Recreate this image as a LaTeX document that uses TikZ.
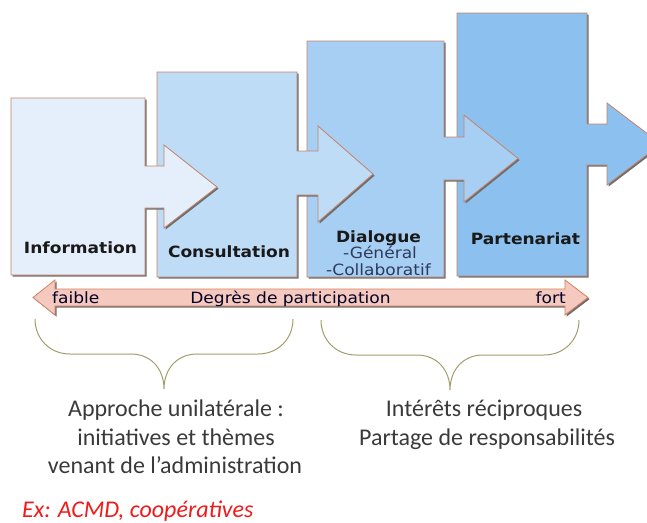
\documentclass[tikz,border=0pt]{standalone}
\usepackage{fontspec}
\setmainfont{Carlito}
\newfontfamily\stepfont[FakeStretch=1.1]{DejaVu Sans}
\definecolor{fillA}{HTML}{E4EFFB}
\definecolor{fillB}{HTML}{BEDCF6}
\definecolor{fillC}{HTML}{A7CFF3}
\definecolor{fillD}{HTML}{8CC0EF}
\definecolor{edge}{HTML}{C4846A}
\definecolor{shade}{HTML}{6E6E6E}
\definecolor{scalefill}{HTML}{F6C9BF}
\definecolor{scaleedge}{HTML}{D0805F}
\definecolor{bracec}{HTML}{A39D6C}
\definecolor{bodytext}{HTML}{3A3A3A}
\definecolor{subtext}{HTML}{2E3B5C}
\definecolor{exred}{HTML}{F01A1A}
\tikzset{
  stepshape/.style={draw=edge, line width=0.8pt, line join=miter,
    preaction={draw=none, fill=shade, transform canvas={shift={(1.6pt,-1.6pt)}}}},
  steplabel/.style={font=\stepfont\fontsize{15.5}{18}\selectfont\bfseries, text=black!90, inner sep=0pt, anchor=base},
  sublabel/.style={font=\stepfont\fontsize{15.5}{18}\selectfont, text=subtext, inner sep=0pt, anchor=base},
  scalelabel/.style={font=\stepfont\fontsize{15.5}{18}\selectfont, text=black!85!blue, inner sep=0pt},
  notetext/.style={font=\fontsize{24}{29}\selectfont, text=bodytext, inner sep=0pt, anchor=base},
  bracestyle/.style={draw=bracec, line width=1pt},
  pics/curlybrace/.style={code={
    \draw[bracestyle] (0,0) .. controls (0,20) and (15,35) .. (35,35)
      -- (96,35) .. controls (116,35) and (129,50) .. (129,70)
      .. controls (129,50) and (142,35) .. (162,35)
      -- (223,35) .. controls (243,35) and (258,20) .. (258,0);
  }}
}
\begin{document}
\begin{tikzpicture}[x=1pt,y=-1pt]
\useasboundingbox (0,0) rectangle (647,522);
\clip (0,0) rectangle (647,522);

% stages, drawn from the last to the first so each arrow lies on the next box
\path[stepshape, fill=fillD] (457,13) -- (587,13) -- (587,124) -- (607,124) -- (607,103)
  -- (661,144) -- (607,185) -- (607,165) -- (587,165) -- (587,276) -- (457,276) -- cycle;
\path[stepshape, fill=fillC] (307,41) -- (444,41) -- (444,137) -- (464,137) -- (464,115)
  -- (518,158.5) -- (464,202) -- (464,180) -- (444,180) -- (444,277) -- (307,277) -- cycle;
\path[stepshape, fill=fillB] (157,72) -- (297,72) -- (297,151) -- (318,151) -- (318,126)
  -- (373,174) -- (318,222) -- (318,195) -- (297,195) -- (297,277) -- (157,277) -- cycle;
\path[stepshape, fill=fillA] (11,98) -- (145,98) -- (145,166) -- (164,166) -- (164,145)
  -- (217,187) -- (164,228) -- (164,208) -- (145,208) -- (145,275) -- (11,275) -- cycle;

\node[steplabel] (information) at (80.5,253) {Information};
\node[steplabel] (consultation) at (229,257) {Consultation};
\node[steplabel] (dialogue) at (378.5,242) {Dialogue};
\node[sublabel] (general) at (380,258) {-Général};
\node[sublabel] (collab) at (378.5,275) {-Collaboratif};
\node[steplabel] (partenariat) at (525.5,244) {Partenariat};

% participation scale
\path[stepshape, draw=scaleedge, fill=scalefill] (33,297.5) -- (55,280) -- (55,289)
  -- (565,289) -- (565,280) -- (588,297.5) -- (565,315) -- (565,306) -- (55,306)
  -- (55,315) -- cycle;
\node[scalelabel, anchor=base west] (faible) at (52,303) {faible};
\node[scalelabel, anchor=base] (degres) at (290.5,303) {Degrès de participation};
\node[scalelabel, anchor=base east] (fort) at (566,303) {fort};

% groupings
\pic at (35,319) {curlybrace};
\pic at (321,320) {curlybrace};

\node[notetext] (uni1) at (176,416.5) {Approche unilatérale :};
\node[notetext] (uni2) at (176,445) {initiatives et thèmes};
\node[notetext] (uni3) at (175,473.5) {venant de l’administration};
\node[notetext] (rec1) at (484,416.5) {Intérêts réciproques};
\node[notetext] (rec2) at (487,445) {Partage de responsabilités};
\node[notetext, anchor=base west, text=exred, font=\fontsize{24}{29}\selectfont\itshape] (ex) at (22,517) {Ex: ACMD, coopératives};
\end{tikzpicture}
\end{document}
